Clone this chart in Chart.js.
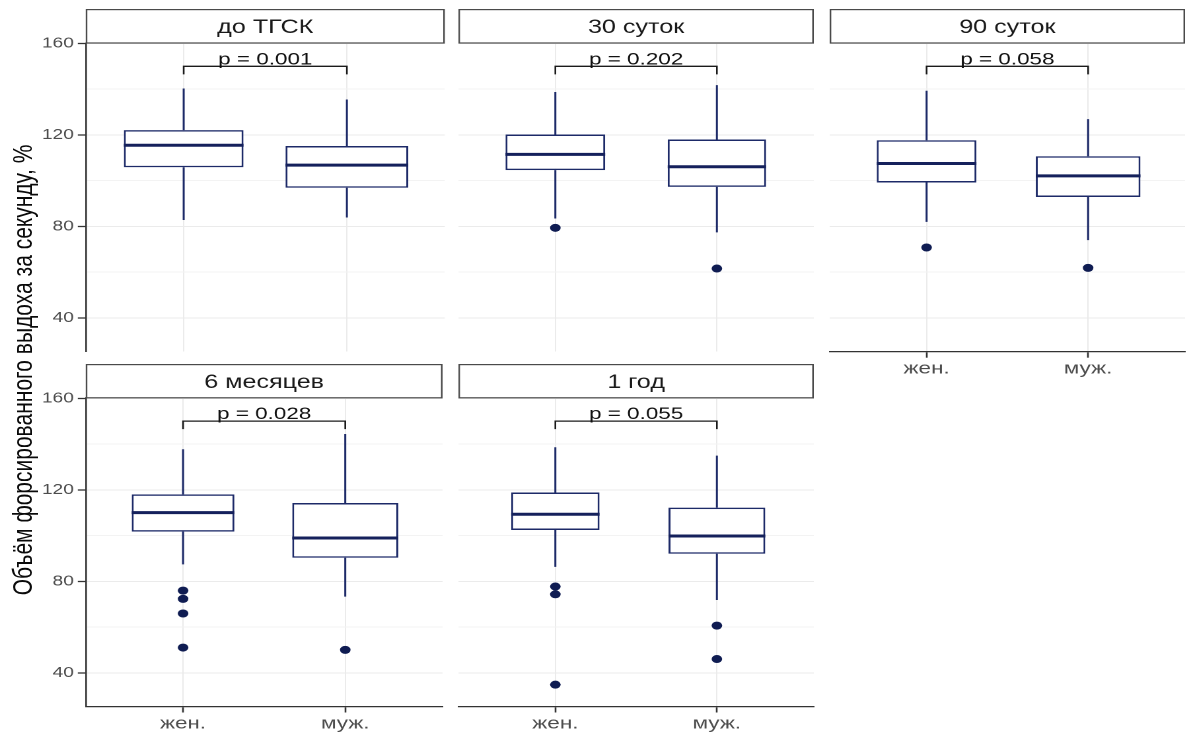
<!DOCTYPE html>
<html>
<head>
<meta charset="utf-8">
<script src="https://cdn.jsdelivr.net/npm/chart.js@4.4.1/dist/chart.umd.min.js"></script>
<style>
  html, body { margin: 0; padding: 0; background: #fff; overflow: hidden; width: 1189px; height: 735px; }
  #stage { position: absolute; left: 0; top: 0; width: 900px; height: 735px; transform-origin: 0 0; transform: scaleX(1.32111); }
  .panel { position: absolute; }
  #ytitle { position: absolute; left: 16.5px; top: 370px; font-family: 'Liberation Sans', Arial, sans-serif; font-size: 21px; color: #0a0a0a; white-space: nowrap; transform: translate(-50%, -50%) rotate(-90deg); }
</style>
</head>
<body>
<div id="stage"><div id="ytitle">Объём форсированного выдоха за секунду, %</div></div>
<script>
// ---------- DATA ----------
const categories = ['жен.', 'муж.'];
const panelTitles = ['до ТГСК', '30 суток', '90 суток', '6 месяцев', '1 год'];
const pLabels = ['p = 0.001', 'p = 0.202', 'p = 0.058', 'p = 0.028', 'p = 0.055'];
// [lower whisker, Q1, median, Q3, upper whisker]
const womenStats = [
  [82.8, 105.9, 115.5, 122.1, 140.3],
  [83.5, 104.6, 111.5, 120.2, 138.8],
  [82.0, 99.2, 107.5, 117.7, 139.3],
  [87.4, 101.7, 110.0, 118.0, 137.7],
  [86.3, 102.4, 109.3, 118.8, 138.6]
];
const menStats = [
  [83.9, 96.9, 106.8, 115.2, 135.5],
  [77.4, 97.3, 106.1, 118.0, 141.8],
  [74.0, 92.9, 102.1, 110.7, 126.9],
  [73.3, 90.3, 98.9, 114.2, 144.4],
  [71.8, 92.0, 99.8, 112.2, 134.9]
];
const womenOutliers = [[], [79.4], [70.8], [75.9, 72.3, 65.9, 51.0], [77.7, 74.3, 34.8]];
const menOutliers = [[], [61.6], [61.9], [50.0], [60.6, 46.0]];
// relative box widths (varwidth, ~ sqrt(n))
const womenBoxWidth = [0.733, 0.617, 0.617, 0.633, 0.547];
const menBoxWidth = [0.752, 0.609, 0.648, 0.654, 0.599];
const bracketY = [150, 150, 150, 150, 150];
const yTicks = [40, 80, 120, 160];
const yMinorTicks = [60, 100, 140];

// ---------- STYLE / LAYOUT ----------
const F = "'Liberation Sans', Arial, sans-serif";
const BOX = '#1d2a68';
const MED = '#15215c';
const PT = '#0f1c52';
const AXIS = '#333333';
const TICKC = '#4d4d4d';
const GRID = '#ebebeb';
const GRID_MINOR = '#f3f3f3';
const TIP = 3.5;
const Y_MIN = 25.25, Y_MAX = 160.2;
const panelW = 271.8;
const colLeft = [64.9, 345.75, 626.6];
const rowStripTop = [9, 364];
const rowPlotTop = [43, 397.8];
const plotH = 308.7;
const grid = [
  { r: 0, c: 0, showY: true, showX: false },
  { r: 0, c: 1, showY: false, showX: false },
  { r: 0, c: 2, showY: false, showX: true },
  { r: 1, c: 0, showY: true, showX: true },
  { r: 1, c: 1, showY: false, showX: true }
];

const stripPlugin = {
  id: 'strip',
  afterDraw(chart, args, opts) {
    const { ctx, chartArea: a } = chart;
    const top = 0.6;
    ctx.save();
    ctx.fillStyle = '#fff';
    ctx.fillRect(a.left, top, a.right - a.left, a.top - top);
    ctx.strokeStyle = '#4a4a4a';
    ctx.lineWidth = 1.2;
    ctx.strokeRect(a.left + 0.6, top, a.right - a.left - 1.2, a.top - top);
    ctx.fillStyle = '#1a1a1a';
    ctx.font = '19px ' + F;
    ctx.textAlign = 'center';
    ctx.textBaseline = 'alphabetic';
    ctx.fillText(opts.title, (a.left + a.right) / 2, (top + a.top) / 2 + 0.36 * 19);
    ctx.restore();
  }
};

const pPlugin = {
  id: 'pval',
  afterDatasetsDraw(chart, args, opts) {
    const { ctx } = chart;
    const xs = chart.scales.x, ys = chart.scales.y;
    ctx.save();
    ctx.fillStyle = '#111';
    ctx.font = '17px ' + F;
    ctx.textAlign = 'center';
    ctx.textBaseline = 'alphabetic';
    ctx.fillText(opts.text, xs.getPixelForValue(1.5), ys.getPixelForValue(opts.y) - 2);
    ctx.restore();
  }
};

const stage = document.getElementById('stage');

function fixFit(s, dim, size) {
  s[dim] = size;
  s.paddingLeft = 0; s.paddingRight = 0; s.paddingTop = 0; s.paddingBottom = 0;
}

function makePanel(i) {
  const L = grid[i];
  const pl = colLeft[L.c], pr = pl + panelW;
  const st = rowStripTop[L.r], pt = rowPlotTop[L.r], pb = pt + plotH;
  const cl = Math.floor(pl) - (L.showY ? 50 : 2);
  const cr = Math.ceil(pr) + 2;
  const cb = Math.ceil(pb) + (L.showX ? 32 : 4);
  const yW = L.showY ? pl - cl : 0;
  const xH = L.showX ? cb - pb : 0;

  const div = document.createElement('div');
  div.className = 'panel';
  div.style.left = cl + 'px';
  div.style.top = st + 'px';
  div.style.width = (cr - cl) + 'px';
  div.style.height = (cb - st) + 'px';
  const canvas = document.createElement('canvas');
  div.appendChild(canvas);
  stage.appendChild(div);

  const stats = [womenStats[i], menStats[i]];
  const widths = [womenBoxWidth[i], menBoxWidth[i]];
  const outl = [womenOutliers[i], menOutliers[i]];
  const datasets = [];

  stats.forEach((s, k) => datasets.push({
    type: 'bar',
    data: [{ x: k + 1, y: [s[1], s[3]] }],
    backgroundColor: '#ffffff',
    borderColor: BOX,
    borderWidth: 1.5,
    borderSkipped: false,
    barPercentage: widths[k],
    categoryPercentage: 1,
    grouped: false,
    order: 4
  }));

  const wh = [];
  stats.forEach((s, k) => {
    wh.push({ x: k + 1, y: s[0] }, { x: k + 1, y: s[1] }, { x: k + 1, y: null },
            { x: k + 1, y: s[3] }, { x: k + 1, y: s[4] }, { x: k + 1, y: null });
  });
  datasets.push({ type: 'line', data: wh, borderColor: BOX, borderWidth: 1.5, pointRadius: 0, spanGaps: false, fill: false, order: 3 });

  const md = [];
  stats.forEach((s, k) => {
    md.push({ x: k + 1 - widths[k] / 2, y: s[2] }, { x: k + 1 + widths[k] / 2, y: s[2] }, { x: k + 1, y: null });
  });
  datasets.push({ type: 'line', data: md, borderColor: MED, borderWidth: 3, pointRadius: 0, spanGaps: false, fill: false, order: 2 });

  const pts = [];
  outl.forEach((arr, k) => arr.forEach(v => pts.push({ x: k + 1, y: v })));
  datasets.push({ type: 'scatter', data: pts, pointRadius: 4, pointBackgroundColor: PT, pointBorderWidth: 0, order: 1 });

  const b = bracketY[i];
  datasets.push({
    type: 'line',
    data: [{ x: 1, y: b - TIP }, { x: 1, y: b }, { x: 2, y: b }, { x: 2, y: b - TIP }],
    borderColor: '#1a1a1a', borderWidth: 1.3, pointRadius: 0, fill: false, order: 0
  });

  new Chart(canvas, {
    type: 'bar',
    data: { datasets },
    options: {
      responsive: true,
      maintainAspectRatio: false,
      animation: false,
      devicePixelRatio: 2,
      events: [],
      layout: { padding: { left: pl - cl - yW, right: cr - pr, top: pt - st, bottom: cb - pb - xH } },
      plugins: {
        legend: { display: false },
        tooltip: { enabled: false },
        title: { display: false },
        strip: { title: panelTitles[i] },
        pval: { text: pLabels[i], y: bracketY[i] }
      },
      scales: {
        x: {
          type: 'linear',
          min: 0.4,
          max: 2.6,
          offset: false,
          afterBuildTicks: s => { s.ticks = categories.map((_, k) => ({ value: k + 1 })); },
          afterFit: s => fixFit(s, 'height', xH),
          grid: { offset: false, color: GRID, lineWidth: 1, drawTicks: L.showX, tickLength: 6, tickColor: AXIS, tickWidth: 1.3 },
          border: { display: L.showX, color: AXIS, width: 1.3 },
          ticks: {
            display: L.showX,
            autoSkip: false,
            maxRotation: 0,
            padding: 1,
            color: TICKC,
            font: { family: F, size: 17 },
            callback: (v, idx) => categories[idx]
          }
        },
        y: {
          type: 'linear',
          min: Y_MIN,
          max: Y_MAX,
          afterBuildTicks: s => { s.ticks = yTicks.concat(yMinorTicks).sort((a, c) => a - c).map(v => ({ value: v })); },
          afterFit: s => fixFit(s, 'width', yW),
          grid: {
            color: ctx => (ctx.tick && yMinorTicks.includes(ctx.tick.value)) ? GRID_MINOR : GRID,
            lineWidth: 1,
            drawTicks: L.showY,
            tickLength: 6,
            tickWidth: 1.3,
            tickColor: ctx => (ctx.tick && yMinorTicks.includes(ctx.tick.value)) ? 'rgba(0,0,0,0)' : AXIS
          },
          border: { display: L.showY, color: AXIS, width: 1.3 },
          ticks: {
            display: L.showY,
            autoSkip: false,
            padding: 3,
            color: TICKC,
            font: { family: F, size: 14.5 },
            callback: v => yTicks.includes(v) ? String(v) : ''
          }
        }
      }
    },
    plugins: [stripPlugin, pPlugin]
  });
}

for (let i = 0; i < panelTitles.length; i++) makePanel(i);
</script>
</body>
</html>
